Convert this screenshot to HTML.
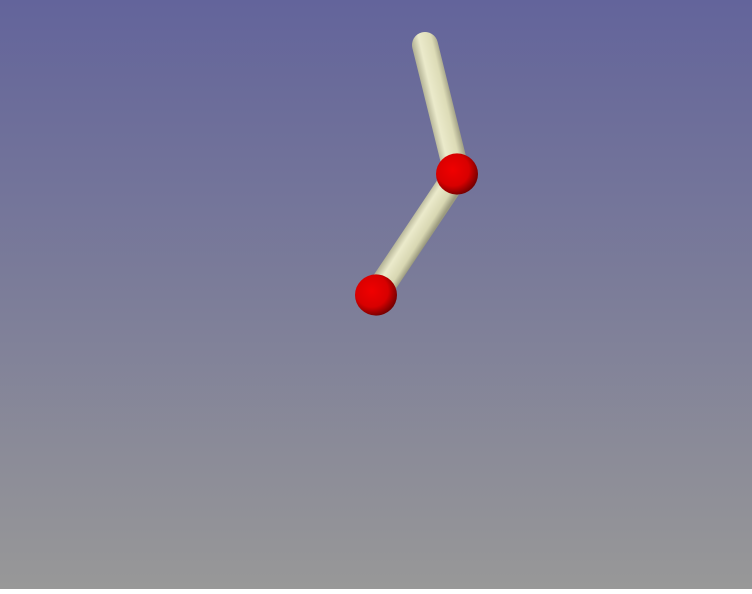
<!DOCTYPE html>
<html><head><meta charset="utf-8"><style>
html,body{margin:0;padding:0;width:752px;height:589px;overflow:hidden}
#bg{position:absolute;left:0;top:0;width:752px;height:589px;background:linear-gradient(to bottom,#63649b 0%,#7c7d99 50%,#989898 100%)}
</style></head><body>
<div id="bg">
<svg width="752" height="589">
<defs>
<linearGradient id="rod1" gradientUnits="userSpaceOnUse" x1="428" y1="113" x2="454" y2="107">
<stop offset="0" stop-color="#b4b396"/><stop offset="0.3" stop-color="#ebeacb"/><stop offset="0.75" stop-color="#dddcb7"/><stop offset="1" stop-color="#a3a286"/></linearGradient>
<linearGradient id="rod2" gradientUnits="userSpaceOnUse" x1="405" y1="227" x2="427" y2="241">
<stop offset="0" stop-color="#b4b396"/><stop offset="0.3" stop-color="#ebeacb"/><stop offset="0.75" stop-color="#d8d7b2"/><stop offset="1" stop-color="#9b9a7e"/></linearGradient>
<radialGradient id="ball" cx="0.4" cy="0.4" r="0.65">
<stop offset="0" stop-color="#f00000"/><stop offset="0.6" stop-color="#d80000"/><stop offset="1" stop-color="#6a0000"/></radialGradient>
</defs>
<g id="marks"></g>
</svg></div>
<script>
const pointsX=[425,457,376];
const pointsY=[45,174,295];
const jointRadius=[0,21,21];
const g=document.getElementById('marks');
const ns='http://www.w3.org/2000/svg';
for(let i=0;i<pointsX.length-1;i++){
  const l=document.createElementNS(ns,'line');
  l.setAttribute('x1',pointsX[i]);l.setAttribute('y1',pointsY[i]);
  l.setAttribute('x2',pointsX[i+1]);l.setAttribute('y2',pointsY[i+1]);
  l.setAttribute('stroke','url(#rod'+(i+1)+')');l.setAttribute('stroke-width','26');
  l.setAttribute('stroke-linecap','round');
  
  
  g.appendChild(l);
}
for(let i=0;i<pointsX.length;i++){
  if(!jointRadius[i])continue;
  const c=document.createElementNS(ns,'ellipse');
  c.setAttribute('cx',pointsX[i]);c.setAttribute('cy',pointsY[i]);
  c.setAttribute('rx',jointRadius[i]);c.setAttribute('ry',jointRadius[i]*0.98);
  c.setAttribute('fill','url(#ball)');
  
  
  g.appendChild(c);
}
</script>
</body></html>
